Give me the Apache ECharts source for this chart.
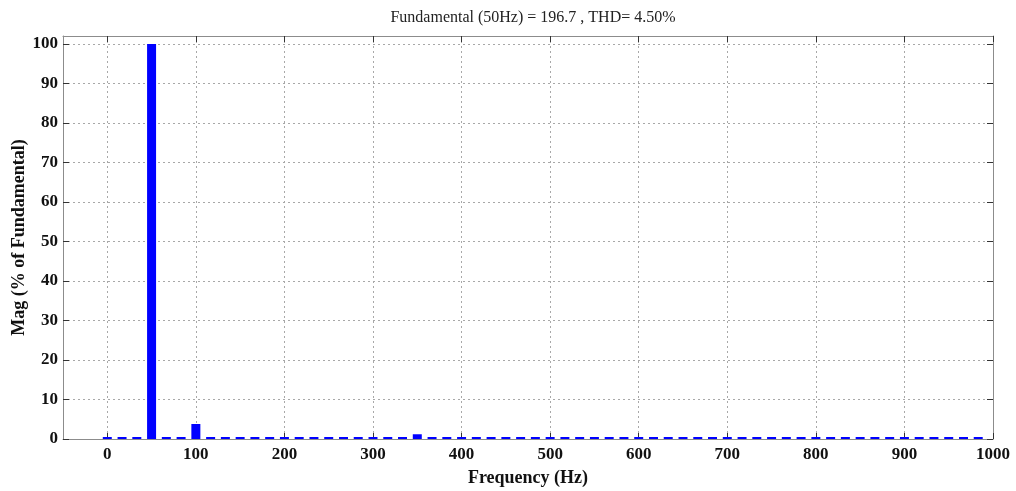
<!DOCTYPE html>
<html>
<head>
<meta charset="utf-8">
<script src="https://cdn.jsdelivr.net/npm/echarts@6/dist/echarts.min.js"></script>
<style>
  html, body { margin: 0; padding: 0; background: #fff; }
  #chart { width: 1016px; height: 491px; }
</style>
</head>
<body>
<div id="chart"></div>
<script>
// Harmonic spectrum: frequency bins (Hz) and magnitude (% of fundamental)
const freqHz = [
  0, 16.67, 33.33, 50, 66.67, 83.33, 100, 116.67, 133.33, 150,
  166.67, 183.33, 200, 216.67, 233.33, 250, 266.67, 283.33, 300, 316.67,
  333.33, 350, 366.67, 383.33, 400, 416.67, 433.33, 450, 466.67, 483.33,
  500, 516.67, 533.33, 550, 566.67, 583.33, 600, 616.67, 633.33, 650,
  666.67, 683.33, 700, 716.67, 733.33, 750, 766.67, 783.33, 800, 816.67,
  833.33, 850, 866.67, 883.33, 900, 916.67, 933.33, 950, 966.67, 983.33
];
const magPct = [
  0.1, 0.1, 0.1, 100, 0.1, 0.1, 3.8, 0.1, 0.1, 0.1,
  0.1, 0.1, 0.5, 0.1, 0.1, 0.4, 0.1, 0.1, 0.1, 0.1,
  0.1, 1.2, 0.1, 0.1, 0.4, 0.1, 0.1, 0.1, 0.1, 0.1,
  0.5, 0.1, 0.1, 0.5, 0.1, 0.1, 0.1, 0.1, 0.1, 0.5,
  0.1, 0.1, 0.1, 0.1, 0.1, 0.1, 0.1, 0.1, 0.1, 0.1,
  0.1, 0.1, 0.1, 0.1, 0.1, 0.1, 0.1, 0.1, 0.1, 0.1
];
const xTicks = [0, 100, 200, 300, 400, 500, 600, 700, 800, 900, 1000];
const yTicks = [0, 10, 20, 30, 40, 50, 60, 70, 80, 90, 100];
const titleText = 'Fundamental (50Hz) = 196.7 , THD= 4.50%';

const serif = '"Liberation Serif", "DejaVu Serif", serif';
const frameColor = '#8c8c8c';
const tickColor = '#333';
const gridLine = { show: true, lineStyle: { color: '#a8a8a8', type: [2, 3], width: 1 } };
const plainNumber = v => String(v);

const chart = echarts.init(document.getElementById('chart'), null, { renderer: 'canvas' });

const xBase = {
  type: 'value', min: -50, max: 1000, splitNumber: 10,
  axisLine: { show: true, onZero: false, lineStyle: { color: frameColor, width: 1 } },
  axisTick: { show: true, inside: true, length: 6, customValues: xTicks, lineStyle: { color: tickColor } }
};
const yBase = {
  type: 'value', min: 0, max: 102, interval: 10,
  axisLine: { show: true, onZero: false, lineStyle: { color: frameColor, width: 1 } },
  axisTick: { show: true, inside: true, length: 6, customValues: yTicks, lineStyle: { color: tickColor } }
};

chart.setOption({
  animation: false,
  backgroundColor: '#fff',
  title: {
    text: titleText, left: 528, top: 5, textAlign: 'center',
    textStyle: { fontFamily: serif, fontSize: 16, fontWeight: 'normal', color: '#222' }
  },
  grid: { left: 63, right: 23, top: 36, bottom: 52, containLabel: false, outerBoundsMode: 'none' },
  xAxis: [
    Object.assign({}, xBase, {
      position: 'bottom',
      name: 'Frequency (Hz)', nameLocation: 'middle', nameGap: 30, nameMoveOverlap: false,
      nameTextStyle: { fontFamily: serif, fontSize: 18, fontWeight: 'bold', color: '#111' },
      axisLabel: { show: true, customValues: xTicks, formatter: plainNumber, margin: 7, fontFamily: serif, fontSize: 17, fontWeight: 'bold', color: '#111' },
      splitLine: gridLine
    }),
    Object.assign({}, xBase, { position: 'top', axisLabel: { show: false }, splitLine: { show: false } })
  ],
  yAxis: [
    Object.assign({}, yBase, {
      position: 'left',
      name: 'Mag (% of Fundamental)', nameLocation: 'middle', nameGap: 35, nameRotate: 90, nameMoveOverlap: false,
      nameTextStyle: { fontFamily: serif, fontSize: 18, fontWeight: 'bold', color: '#111' },
      axisLabel: { show: true, customValues: yTicks, formatter: plainNumber, margin: 5, fontFamily: serif, fontSize: 17, fontWeight: 'bold', color: '#111' },
      splitLine: gridLine
    }),
    Object.assign({}, yBase, { position: 'right', axisLabel: { show: false }, splitLine: { show: false } })
  ],
  series: [{
    type: 'bar',
    xAxisIndex: 0, yAxisIndex: 0,
    data: freqHz.map((f, i) => [f, magPct[i]]),
    barWidth: 9,
    barMinHeight: 2,
    itemStyle: { color: '#0000ff' },
    emphasis: { disabled: true }
  }]
});
</script>
</body>
</html>
